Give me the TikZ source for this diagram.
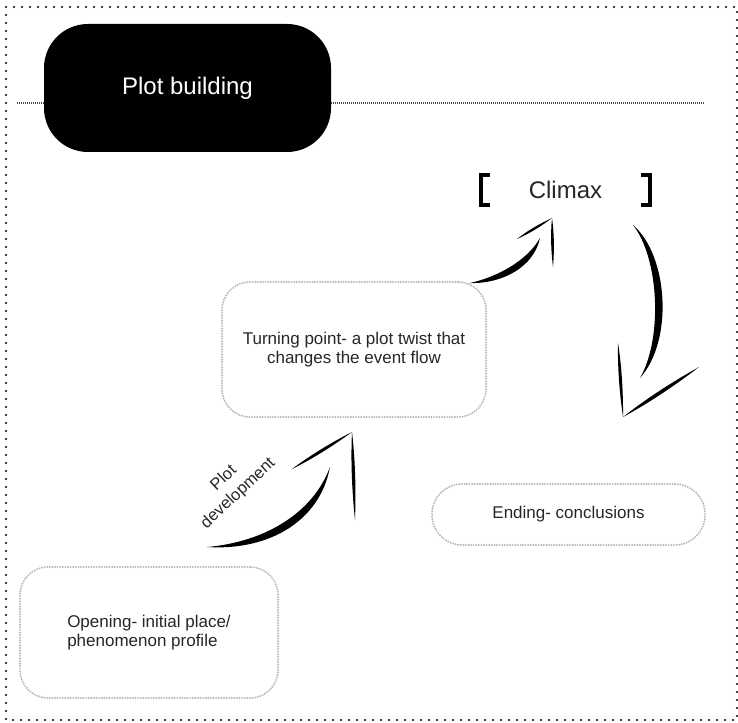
\documentclass[tikz,border=0pt]{standalone}
\usepackage{fontspec}
\setmainfont{Liberation Sans}
\usetikzlibrary{calc}

\newcommand{\barb}[3]{%
  \fill (#1) .. controls ($(#1)!.3!(#2)!#3!90:(#2)$) and ($(#1)!.65!(#2)!#3!90:(#2)$) .. (#2)
        .. controls ($(#1)!.65!(#2)!#3!-90:(#2)$) and ($(#1)!.3!(#2)!#3!-90:(#2)$) .. (#1) -- cycle;}

\begin{document}
\begin{tikzpicture}[x=1pt, y=-1pt,
  txt/.style={text=black!85, font=\fontsize{17}{18.5}\selectfont},
  box/.style={txt, rectangle, rounded corners=28pt, draw=black!28, line width=2.2pt,
              dash pattern=on 0pt off 2.6pt, line cap=round, align=center, inner sep=0pt},
  titlebox/.style={rectangle, rounded corners=44pt, fill=black, text=white,
                   font=\fontsize{24}{28}\selectfont, minimum width=287pt, minimum height=128pt},
  border/.style={line width=2.4pt, dash pattern=on 0pt off 8pt, line cap=round},
  rule/.style={black!70, line width=1.5pt, dash pattern=on 1pt off 1pt},
  bracket/.style={line width=4.5pt, line join=miter}]
  \useasboundingbox (0,0) rectangle (738,722);
  \draw[border] (6,7) rectangle (737,720);
  \coordinate (ruleL) at (17,103);
  \coordinate (ruleR) at (705,103);
  \draw[rule] (ruleL) -- (ruleR);
  \node[titlebox] (title) at (187.5,88) {Plot building};
  \node[txt, font=\fontsize{24}{28}\selectfont, minimum width=173pt, minimum height=33pt,
        inner sep=0pt] (climax) at (565.5,190) {Climax};
  \draw[bracket] ([xshift=11pt,yshift=15pt]climax.west) -| ([xshift=2.25pt,yshift=-15pt]climax.west)
        -- ++(8.75,0);
  \draw[bracket] ([xshift=-11pt,yshift=15pt]climax.east) -| ([xshift=-2.25pt,yshift=-15pt]climax.east)
        -- ++(-8.75,0);
  \node[box, minimum width=264pt, minimum height=135pt] (turn) at (354,349.5)
        {Turning point- a plot twist that\\changes the event flow};
  \node[box, rounded corners=30pt, minimum width=273pt, minimum height=61pt] (ending) at (568.5,514.5)
        {Ending- conclusions};
  \node[box, align=left, minimum width=258pt, minimum height=131pt] (opening) at (149,632.5)
        {Opening- initial place/\\phenomenon profile};
  \node[txt, align=center, rotate=43, font=\fontsize{16.5}{21}\selectfont] (plotdev) at (231,486)
        {Plot\\development};
  \coordinate (pd-from) at (207,547);
  \coordinate (pd-to) at (330,467);
  \coordinate (pd-tip) at (352,432);
  \coordinate (pd-left) at (292,469);
  \coordinate (pd-right) at (355,520);
  \fill (pd-from) .. controls (269,551) and (320,521) .. (pd-to)
        .. controls (313,513) and (265,542) .. (pd-from) -- cycle;
  \barb{pd-left}{pd-tip}{2pt}
  \barb{pd-tip}{pd-right}{2.2pt}
  \coordinate (tc-from) at (470,283);
  \coordinate (tc-to) at (540,238);
  \coordinate (tc-tip) at (552,218);
  \coordinate (tc-left) at (517,239);
  \coordinate (tc-right) at (553,267);
  \fill (tc-from) .. controls (502,284) and (534,267) .. (tc-to)
        .. controls (527,261) and (497,277) .. (tc-from) -- cycle;
  \barb{tc-left}{tc-tip}{1.6pt}
  \barb{tc-tip}{tc-right}{1.8pt}
  \coordinate (ce-from) at (633,225);
  \coordinate (ce-to) at (640,378);
  \coordinate (ce-tip) at (623,417);
  \coordinate (ce-left) at (618,343);
  \coordinate (ce-right) at (699,367);
  \fill (ce-from) .. controls (668,255) and (674,340) .. (ce-to)
        .. controls (663,338) and (659,258) .. (ce-from) -- cycle;
  \barb{ce-left}{ce-tip}{2pt}
  \barb{ce-tip}{ce-right}{2.4pt}
\end{tikzpicture}
\end{document}
